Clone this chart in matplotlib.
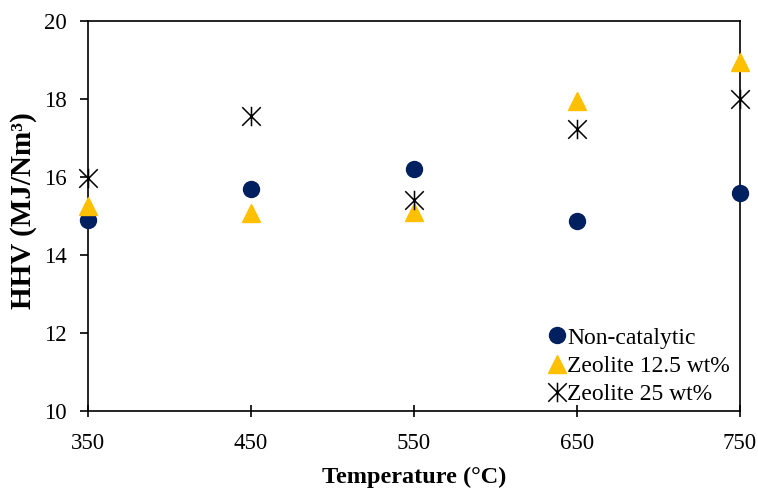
import matplotlib
matplotlib.use("Agg")
import matplotlib.pyplot as plt
from matplotlib.path import Path

temps = [350, 450, 550, 650, 750]
non_catalytic = [14.9, 15.7, 16.2, 14.88, 15.6]
zeolite_12_5 = [15.25, 15.07, 15.1, 17.95, 18.95]
zeolite_25 = [15.98, 17.57, 15.42, 17.22, 18.0]
labels = ["Non-catalytic", "Zeolite 12.5 wt%", "Zeolite 25 wt%"]
xticks = [350, 450, 550, 650, 750]
yticks = [10, 12, 14, 16, 18, 20]

plt.rcParams['font.family'] = ['Liberation Serif', 'DejaVu Serif']

star = Path([(-1, -1), (1, 1), (-1, 1), (1, -1), (0, -1.05), (0, 1.05)],
            [Path.MOVETO, Path.LINETO, Path.MOVETO, Path.LINETO, Path.MOVETO, Path.LINETO])

fig = plt.figure(figsize=(7.58, 4.92), dpi=100)
ax = fig.add_axes([0.116, 0.165, 0.86, 0.792])

ax.plot(temps, non_catalytic, linestyle='none', marker='o', markersize=11.5,
        color='#002060', label=labels[0], clip_on=False, zorder=3)
ax.plot(temps, zeolite_12_5, linestyle='none', marker='^', markersize=12.5,
        color='#FFC000', label=labels[1], clip_on=False, zorder=3)
ax.plot(temps, zeolite_25, linestyle='none', marker=star, markersize=14,
        markerfacecolor='none', markeredgecolor='black', markeredgewidth=1.1,
        label=labels[2], clip_on=False, zorder=4)

ax.set_xlim(350, 750)
ax.set_ylim(10, 20)
ax.set_xticks(xticks)
ax.set_yticks(yticks)
ax.tick_params(axis='both', labelsize=16.5, colors='black', width=1.2)
ax.tick_params(axis='x', direction='inout', length=8, pad=12)
ax.tick_params(axis='y', direction='out', length=6, pad=9)
for s in ax.spines.values():
    s.set_linewidth(1.2)
    s.set_color('black')

ax.set_xlabel('Temperature (°C)', fontsize=17.5, fontweight='bold', labelpad=9)
ax.set_ylabel('HHV (MJ/Nm³)', fontsize=21, fontweight='bold')
ax.yaxis.set_label_coords(-0.078, 0.515)

ax.legend(loc='lower right', bbox_to_anchor=(0.985, 0.015), frameon=False, fontsize=17,
          handlelength=0.7, handletextpad=0.1, labelspacing=0.28, borderaxespad=0.0,
          borderpad=0.0)

fig.savefig('out.png', dpi=100)
